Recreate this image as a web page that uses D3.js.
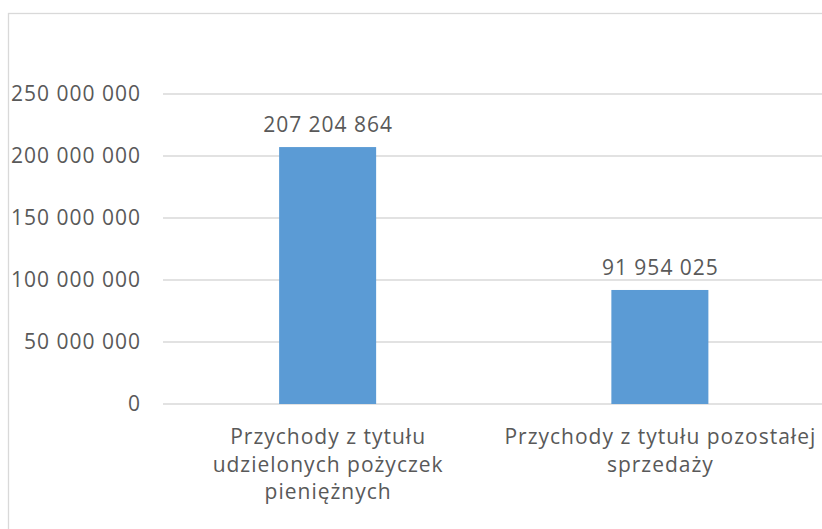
<!DOCTYPE html>
<html>
<head>
<meta charset="utf-8">
<script src="https://cdn.jsdelivr.net/npm/d3@7"></script>
<style>
  body { margin: 0; background: #fff; }
  svg text { font-family: "Open Sans", sans-serif; fill: #595959; letter-spacing: 1px; }
</style>
</head>
<body>
<div id="chart"></div>
<script>
// data
const categories = ["pozyczki", "sprzedaz"];
const values = [207204864, 91954025];
const categoryLines = [
    ["Przychody z tytułu", "udzielonych pożyczek", "pieniężnych"],
    ["Przychody z tytułu pozostałej", "sprzedaży"]
];
const yTicks = [0, 50000000, 100000000, 150000000, 200000000, 250000000];

const width = 822,
      height = 529;
const margin = {top: 94, right: -4, bottom: 125, left: 161.5};
const fontSize = 21;

const svg = d3.select("#chart")
    .append("svg")
    .attr("width", width)
    .attr("height", height);

const locale = d3.formatLocale({decimal: ",", thousands: " ", grouping: [3], currency: ["", ""]});
const format = locale.format(",d");

// outer frame (only top + left visible in reference)
svg.append("rect")
    .attr("x", 8.5)
    .attr("y", 13.5)
    .attr("width", width + 20)
    .attr("height", height + 20)
    .attr("fill", "none")
    .attr("stroke", "#d9d9d9")
    .attr("stroke-width", 1.3);

let x = d3.scaleBand()
    .domain(categories)
    .range([margin.left, width - margin.right])
    .paddingInner(0.708)
    .paddingOuter(0.354);

let y = d3.scaleLinear()
    .domain([0, 250000000])
    .range([height - margin.bottom, margin.top]);

// gridlines
svg.append("g")
    .selectAll("line")
    .data(yTicks)
    .join("line")
    .attr("x1", 163)
    .attr("x2", width)
    .attr("y1", d => y(d))
    .attr("y2", d => y(d))
    .attr("stroke", "#d9d9d9")
    .attr("stroke-width", 1.3);

// y labels
svg.append("g")
    .selectAll("text")
    .data(yTicks)
    .join("text")
    .attr("x", 141)
    .attr("y", d => y(d))
    .attr("dy", "0.35em")
    .attr("text-anchor", "end")
    .attr("font-size", fontSize)
    .text(d => format(d));

let bar = svg.selectAll(".bar")
    .data(categories.map((c, i) => ({cat: c, value: values[i], lines: categoryLines[i]})))
    .join("g")
    .attr("class", "bar");

bar.append("rect")
    .attr("fill", "#5b9bd5")
    .attr("x", d => x(d.cat))
    .attr("width", x.bandwidth())
    .attr("y", d => y(d.value))
    .attr("height", d => y(0) - y(d.value));

bar.append("text") // value labels
    .text(d => format(d.value))
    .attr("font-size", fontSize)
    .attr("x", d => x(d.cat) + x.bandwidth() / 2 + 0.5)
    .attr("y", d => y(d.value) - 15)
    .attr("text-anchor", "middle");

// category labels
bar.append("text")
    .attr("font-size", fontSize)
    .attr("text-anchor", "middle")
    .selectAll("tspan")
    .data(d => d.lines.map(l => ({l, cx: x(d.cat) + x.bandwidth() / 2 + 0.5})))
    .join("tspan")
    .attr("x", d => d.cx)
    .attr("y", (d, i) => y(0) + 40 + i * 27.5)
    .text(d => d.l);
</script>
</body>
</html>
